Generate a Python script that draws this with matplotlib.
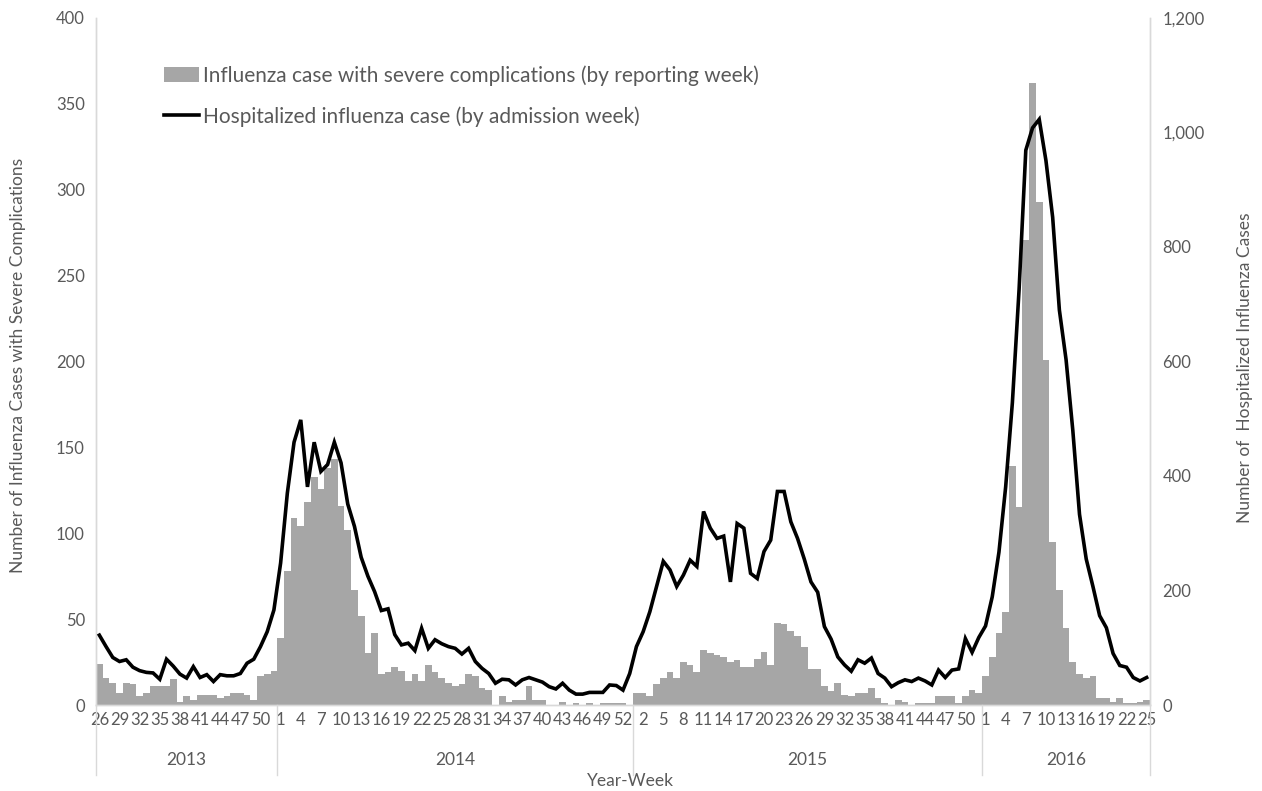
import matplotlib
matplotlib.use("Agg")
import matplotlib.pyplot as plt
import matplotlib.transforms as mtransforms
from matplotlib.patches import Patch
from matplotlib.lines import Line2D
from matplotlib.ticker import FuncFormatter
import numpy as np

plt.rcParams['font.family'] = ['Lato', 'DejaVu Sans']

# ---- categories: (year, week) ----
years = [2013, 2014, 2015, 2016]
first_week = [26, 1, 1, 1]
last_week = [52, 53, 52, 25]

# ---- severe complication cases (left axis, bars) ----
severe_2013 = [24, 16, 13, 7, 13, 12, 5, 7, 11, 11, 11, 15, 2, 5, 3, 6, 6, 6, 4, 5,
               7, 7, 6, 3, 17, 18, 20]
severe_2014 = [39, 78, 109, 104, 118, 133, 126, 138, 143, 116,
               102, 67, 52, 30, 42, 18, 19, 22, 20, 14,
               18, 14, 23, 19, 16, 13, 11, 12, 18, 17,
               10, 9, 0, 5, 2, 3, 3, 11, 3, 3,
               0, 0, 2, 0, 1, 0, 1, 0, 1, 1,
               1, 1, 0]
severe_2015 = [7, 7, 5, 12, 16, 19, 16, 25, 23, 19,
               32, 30, 29, 28, 25, 26, 22, 22, 27, 31,
               23, 48, 47, 43, 40, 34, 21, 21, 11, 8,
               13, 6, 5, 7, 7, 10, 4, 1, 0, 3,
               2, 0, 1, 1, 1, 5, 5, 5, 1, 5,
               9, 7]
severe_2016 = [17, 28, 42, 54, 139, 115, 271, 362, 293, 201,
               95, 67, 45, 25, 18, 16, 17, 4, 4, 2,
               4, 1, 1, 2, 3]

# ---- hospitalized influenza cases (right axis, line) ----
hosp_2013 = [122, 102, 83, 76, 79, 66, 60, 57, 56, 45, 80, 68, 54, 47, 67, 48, 53, 41,
             53, 51, 51, 55, 73, 80, 102, 128, 166]
hosp_2014 = [248, 370, 459, 498, 381, 459, 408, 420, 459, 423,
             351, 312, 258, 225, 198, 165, 168, 123, 105, 108,
             95, 134, 99, 114, 107, 102, 99, 89, 99, 76,
             64, 55, 38, 45, 44, 35, 44, 48, 44, 40,
             32, 28, 38, 26, 19, 19, 22, 22, 22, 35,
             34, 26, 55]
hosp_2015 = [102, 128, 163, 207, 251, 236, 207, 227, 253, 242,
             338, 309, 291, 295, 215, 317, 309, 230, 221, 268,
             288, 373, 373, 320, 291, 255, 215, 197, 137, 115,
             84, 70, 59, 79, 73, 82, 55, 47, 32, 39,
             44, 41, 47, 42, 35, 61, 48, 61, 63, 116,
             92, 118]
hosp_2016 = [138, 189, 267, 381, 528, 726, 969, 1008, 1023, 951,
             852, 690, 603, 480, 333, 255, 207, 156, 135, 90,
             69, 66, 48, 42, 48]

severe = severe_2013 + severe_2014 + severe_2015 + severe_2016
hosp = hosp_2013 + hosp_2014 + hosp_2015 + hosp_2016

weeks = []
year_of = []
for y, a, b in zip(years, first_week, last_week):
    for w in range(a, b + 1):
        weeks.append(w)
        year_of.append(y)
n = len(weeks)
x = np.arange(n)

TXT = '#595959'
SP = '#d9d9d9'

fig = plt.figure(figsize=(12.62, 7.91), dpi=100)
ax = fig.add_axes([96 / 1262, 1 - 705 / 791, (1150 - 96) / 1262, (705 - 18) / 791])

ax.bar(x, severe, width=1.0, color='#a6a6a6', linewidth=0, zorder=2)
ax.set_xlim(-0.5, n - 0.5)
ax.set_ylim(0, 400)
ax.set_yticks(np.arange(0, 401, 50))

ax2 = ax.twinx()
ax2.plot(x, hosp, color='black', linewidth=2.6, solid_joinstyle='miter', zorder=3)
ax2.set_ylim(0, 1200)
ax2.set_yticks(np.arange(0, 1201, 200))
ax2.yaxis.set_major_formatter(FuncFormatter(lambda v, p: f"{int(v):,}"))

tick_pos = [i for i in range(n) if i % 3 == 0]
ax.set_xticks(tick_pos)
ax.set_xticklabels([str(weeks[i]) for i in tick_pos])

for a in (ax, ax2):
    a.tick_params(axis='both', length=0, colors=TXT, labelsize=12)
    a.spines['top'].set_visible(False)
    for s in ('left', 'right', 'bottom'):
        a.spines[s].set_color(SP)
        a.spines[s].set_linewidth(1.0)
ax.tick_params(axis='x', pad=5)
ax.tick_params(axis='y', pad=8)
ax2.tick_params(axis='y', pad=9)

# year dividers and labels
trans = mtransforms.blended_transform_factory(ax.transData, ax.transAxes)
bounds = [-0.5]
cnt = 0
for y, a, b in zip(years, first_week, last_week):
    cnt += b - a + 1
    bounds.append(cnt - 0.5)
for bx in bounds:
    ax.plot([bx, bx], [0, -0.102], color=SP, lw=1.0, transform=trans, clip_on=False)
for k, y in enumerate(years):
    ax.text((bounds[k] + bounds[k + 1]) / 2, -0.08, str(y), transform=trans,
            ha='center', va='center', color=TXT, fontsize=12.5)

fig.text(630 / 1262, 1 - 781 / 791, 'Year-Week', ha='center', va='center',
         color=TXT, fontsize=12.5)
fig.text(18 / 1262, 1 - 365 / 791, 'Number of Influenza Cases with Severe Complications',
         rotation=90, ha='center', va='center', color=TXT, fontsize=12.5)
fig.text(1245 / 1262, 1 - 368 / 791, 'Number of  Hospitalized Influenza Cases',
         rotation=90, ha='center', va='center', color=TXT, fontsize=12.5)

handles = [Patch(facecolor='#a6a6a6', edgecolor='none'),
           Line2D([0], [0], color='black', lw=2.6)]
labels = ['Influenza case with severe complications (by reporting week)',
          'Hospitalized influenza case (by admission week)']
leg = ax2.legend(handles, labels, loc='upper left', frameon=False,
                 bbox_to_anchor=(164 / 1262, 1 - 65 / 791), bbox_transform=fig.transFigure,
                 fontsize=15, handlelength=1.7, handleheight=0.7, handletextpad=0.15,
                 labelspacing=0.98, borderpad=0, borderaxespad=0)
for t in leg.get_texts():
    t.set_color(TXT)

fig.savefig('out.png', dpi=100)
